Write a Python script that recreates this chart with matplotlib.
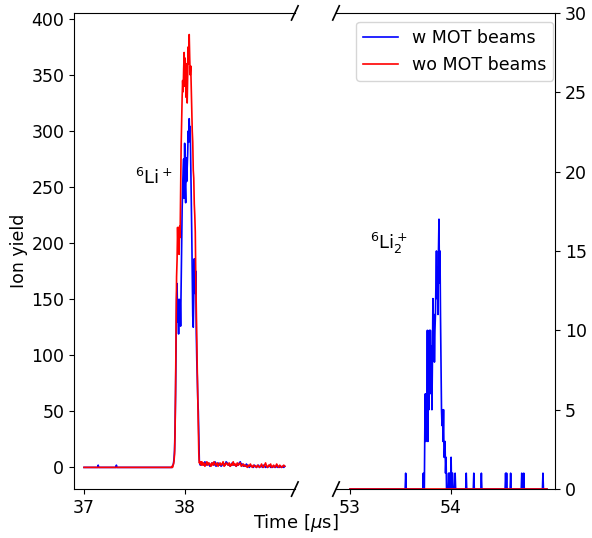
import numpy as np
import matplotlib
matplotlib.use("Agg")
import matplotlib.pyplot as plt

plt.rcParams['font.size'] = 12.5

# --- left window: 6Li+ (37 - 39 us) ---
base_t_blue = [37.0, 37.135, 37.14, 37.145, 37.315, 37.32, 37.325, 37.855]
base_blue = [0, 0, 2, 0, 0, 2, 0, 0]
base_t_red = [37.0, 37.855]
base_red = [0, 0]

peak_t = np.round(np.arange(37.860, 38.1625, 0.005), 3)
peak_red = [0, 0, 1, 0, 2, 3, 6, 12, 30, 70, 120, 170, 185, 214, 195, 210,
            190, 215, 205, 245, 285, 310, 330, 345, 335, 355, 370, 340, 365,
            350, 330, 360, 325, 350, 375, 360, 386, 365, 350, 358, 340, 320,
            300, 290, 265, 258, 235, 225, 210, 170, 140, 110, 85, 60, 35, 12,
            4, 5, 3, 5, 2]
peak_blue = [0, 0, 0, 1, 2, 4, 8, 15, 35, 65, 110, 150, 164, 130, 145, 119,
             150, 135, 149, 126, 160, 200, 230, 250, 265, 275, 240, 289, 250,
             236, 276, 255, 268, 280, 300, 290, 311, 295, 304, 274, 250, 210,
             170, 135, 125, 150, 186, 164, 155, 175, 120, 95, 80, 60, 50, 30,
             6, 4, 2, 3, 4]

tail_red = [5, 2, 4, 1, 3, 5, 2, 4, 3, 1, 4, 2, 5, 3, 2, 4, 1, 3, 4, 2, 3, 5,
            1, 2, 4, 3, 2, 4, 1, 3, 2, 5, 2, 3, 1, 4, 2, 3, 4, 1, 2, 3, 1, 2,
            1, 0, 2, 1, 3, 1, 0, 2, 1, 1, 0, 2, 1, 0, 1, 3, 1, 0, 2, 4, 1, 0,
            2, 1, 3, 0, 1, 2, 0, 1, 3, 1, 0, 2, 1, 0, 1, 2, 1]
tail_blue = [3, 4, 2, 5, 3, 2, 4, 3, 1, 2, 4, 3, 2, 5, 1, 3, 4, 2, 3, 1, 2, 4,
             3, 2, 5, 4, 2, 3, 1, 2, 4, 2, 3, 2, 1, 3, 2, 4, 5, 2, 3, 1, 2, 1,
             3, 2, 1, 0, 2, 1, 1, 0, 2, 1, 0, 1, 2, 0, 1, 1, 0, 2, 1, 0, 1, 0,
             1, 2, 0, 1, 0, 1, 1, 0, 2, 0, 1, 0, 1, 0, 1, 0, 1]
tail_t_red = np.round(38.165 + 0.01 * np.arange(len(tail_red)), 3)
tail_t_blue = np.round(38.165 + 0.01 * np.arange(len(tail_blue)), 3)

# --- right window: 6Li2+ (53 - 55 us) ---
li2_t_pre = [53.0, 53.545, 53.55, 53.555, 53.72, 53.725, 53.73]
li2_pre = [0, 0, 1, 0, 0, 1, 0]
li2_t_main = np.round(np.arange(53.735, 53.9575, 0.005), 3)
li2_main = [0, 4, 6, 3, 6, 4, 10, 3, 9, 5, 10, 6, 10, 7, 9, 5, 8, 12, 9, 11,
            8, 10, 11, 13, 15, 12, 14, 11, 15, 17, 13, 15, 11, 8, 5, 4, 5, 3,
            5, 2, 2, 3, 1, 2, 0]
li2_t_post = [53.96, 53.97, 53.975, 53.98, 53.985, 53.99, 53.995, 54.0, 54.005,
              54.01, 54.015, 54.02, 54.035, 54.04, 54.045,
              54.145, 54.15, 54.155, 54.22, 54.225, 54.23, 54.295, 54.3, 54.305,
              54.535, 54.54, 54.545, 54.55, 54.555, 54.585, 54.59, 54.595,
              54.695, 54.7, 54.705, 54.715, 54.72, 54.725, 54.905, 54.91,
              54.915, 54.95]
li2_post = [0, 0, 1, 0, 1, 1, 0, 2, 0, 1, 1, 0, 0, 1, 0,
            0, 1, 0, 0, 1, 0, 0, 1, 0,
            0, 1, 0, 1, 0, 0, 1, 0,
            0, 1, 0, 0, 1, 0, 0, 1,
            0, 0]
li2_t_red = [53.0, 54.95]
li2_red = [0, 0]

fig = plt.figure(figsize=(5.92, 5.38), dpi=100)
ax1 = fig.add_axes([0.125, 0.091, 0.373, 0.885])
ax2 = fig.add_axes([0.5676, 0.091, 0.370, 0.885])

t_blue1 = np.concatenate([base_t_blue, peak_t, tail_t_blue])
y_blue1 = np.concatenate([base_blue, peak_blue, tail_blue])
t_red1 = np.concatenate([base_t_red, peak_t, tail_t_red])
y_red1 = np.concatenate([base_red, peak_red, tail_red])

ax1.plot(t_blue1, y_blue1, color='b', lw=1.2, label='w MOT beams')
ax1.plot(t_red1, y_red1, color='r', lw=1.2, label='wo MOT beams')

t2 = np.concatenate([li2_t_pre, li2_t_main, li2_t_post])
y2 = np.concatenate([li2_pre, li2_main, li2_post])
ax2.plot(t2, y2, color='b', lw=1.2, label='w MOT beams')
ax2.plot(li2_t_red, li2_red, color='r', lw=1.2, label='wo MOT beams')

ax1.set_xticks([37, 38])
ax2.set_xlim(52.86, 55.03)
ax2.set_xticks([53, 54])
ax2.set_ylim(0, 30)
ax2.set_yticks([0, 5, 10, 15, 20, 25, 30])

ax1.spines['right'].set_visible(False)
ax2.spines['left'].set_visible(False)
ax2.yaxis.tick_right()
ax2.tick_params(left=False)

# break marks
d = .015
kw = dict(transform=ax1.transAxes, color='k', clip_on=False, lw=1.2)
ax1.plot((1 - d, 1 + d), (-d, +d), **kw)
ax1.plot((1 - d, 1 + d), (1 - d, 1 + d), **kw)
kw.update(transform=ax2.transAxes)
ax2.plot((-d, +d), (-d, +d), **kw)
ax2.plot((-d, +d), (1 - d, 1 + d), **kw)

ax1.text(37.5, 258, r'$^6$Li$^+$', ha='left', va='center', fontsize=13)
ax2.text(53.2, 15.5, r'$^6$Li$_2^+$', ha='left', va='center', fontsize=13)

ax1.set_ylabel('Ion yield')
ax1.yaxis.set_label_coords(-0.21, 0.5)
fig.text(0.5, 0.028, r'Time [$\mu$s]', ha='center', va='center', fontsize=13)
ax2.legend(loc='upper right', bbox_to_anchor=(0.991, 0.981), borderaxespad=0)

fig.savefig('out.png', dpi=100)
